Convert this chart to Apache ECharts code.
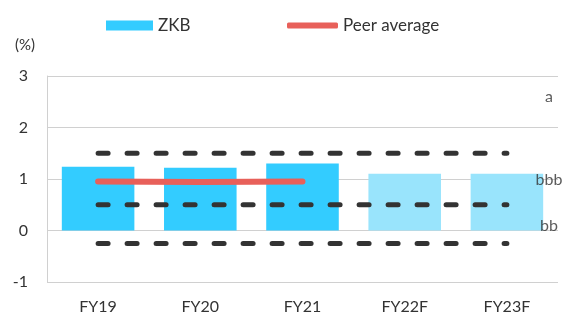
<!doctype html>
<html>
    <head>
        <meta charset="utf-8">
        <title>ZKB vs peers</title>
        <style>
            html, body { margin: 0; padding: 0; background: #fff; }
            #main { width: 566px; height: 316px; }
        </style>
    </head>
    <body>
        <div id="main"></div>
        <script src="https://cdn.jsdelivr.net/npm/echarts@6/dist/echarts.min.js"></script>
        <script>
            var categories = ['FY19', 'FY20', 'FY21', 'FY22F', 'FY23F'];
            var zkbValues = [1.24, 1.22, 1.30, 1.10, 1.10];
            var forecast = [false, false, false, true, true];
            var peerValues = [0.95, 0.94, 0.95, null, null];
            var thresholds = [1.5, 0.5, -0.25];
            var ratingNames = ['a', 'bbb', 'bb'];
            var ratingLevels = [2.6, 0.98, 0.1];

            var font = 'Lato, "Open Sans", sans-serif';
            var chart = echarts.init(document.getElementById('main'), null, {
                devicePixelRatio: 1
            });

            var series = [{
                name: 'ZKB',
                type: 'bar',
                barWidth: '71%',
                itemStyle: { color: '#33ccff' },
                data: zkbValues.map(function (v, i) {
                    return forecast[i] ? { value: v, itemStyle: { color: '#99e4fc' } } : v;
                }),
                z: 1
            }];

            thresholds.forEach(function (t) {
                series.push({
                    type: 'line',
                    symbol: 'none',
                    silent: true,
                    lineStyle: { color: '#333333', width: 5, type: [10, 19], cap: 'round' },
                    data: categories.map(function () { return t; }),
                    z: 2
                });
            });

            series.push({
                name: 'Peer average',
                type: 'line',
                symbol: 'none',
                color: '#e8605a',
                lineStyle: { color: '#e8605a', width: 6, cap: 'round' },
                data: peerValues,
                z: 3
            });

            series.push({
                type: 'scatter',
                symbolSize: 0,
                silent: true,
                data: ratingLevels.map(function (v, i) {
                    return { value: ['FY23F', v], name: ratingNames[i] };
                }),
                label: {
                    show: true,
                    position: 'inside',
                    offset: [42, 0],
                    formatter: '{b}',
                    color: '#333',
                    fontFamily: font,
                    fontSize: 16
                }
            });

            chart.setOption({
                animation: false,
                textStyle: { fontFamily: font },
                grid: { left: 47, right: 8, top: 76, bottom: 34 },
                legend: [{
                    data: [{ name: 'ZKB', icon: 'rect' }],
                    left: 101,
                    top: 12,
                    itemWidth: 47,
                    itemHeight: 10,
                    textStyle: { color: '#333', fontSize: 17, fontFamily: font }
                }, {
                    data: [{ name: 'Peer average', icon: 'roundRect' }],
                    left: 282,
                    top: 12,
                    itemWidth: 51,
                    itemHeight: 6,
                    textStyle: { color: '#333', fontSize: 17, fontFamily: font }
                }],
                graphic: [{
                    type: 'text',
                    left: 15,
                    top: 38,
                    style: { text: '(%)', fill: '#333', font: '15px ' + font }
                }],
                xAxis: {
                    type: 'category',
                    data: categories,
                    axisLine: { show: false },
                    axisTick: { show: false },
                    axisLabel: { color: '#333', fontSize: 16, margin: 17 }
                },
                yAxis: {
                    type: 'value',
                    min: -1,
                    max: 3,
                    interval: 1,
                    axisLine: { show: true, lineStyle: { color: '#d0d0d0' } },
                    axisTick: { show: false },
                    splitLine: { lineStyle: { color: '#d0d0d0' } },
                    axisLabel: { color: '#333', fontSize: 16, margin: 19 }
                },
                series: series
            });

            window.onresize = chart.resize;
        </script>
    </body>
</html>
